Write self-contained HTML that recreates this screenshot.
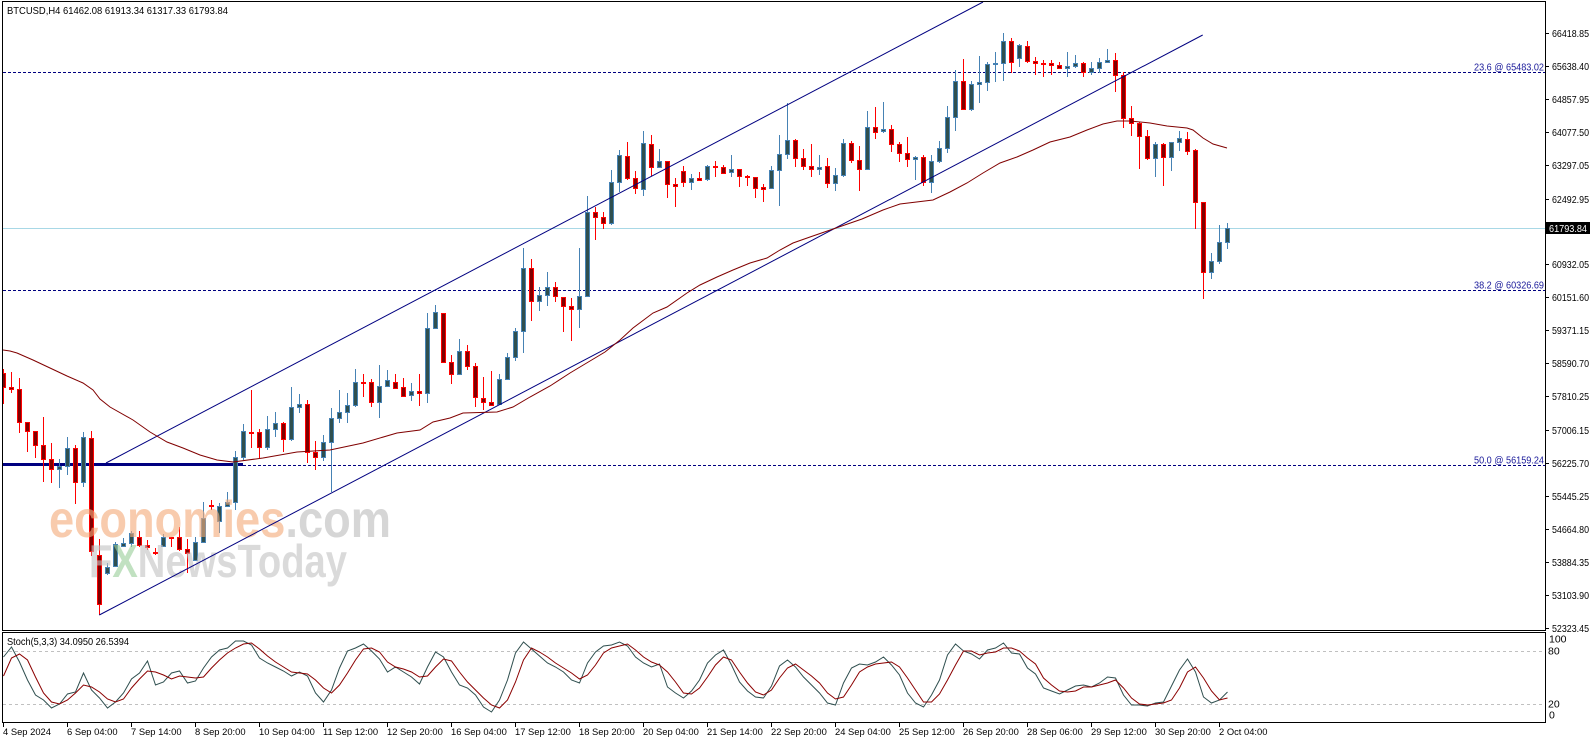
<!DOCTYPE html>
<html><head><meta charset="utf-8"><style>html,body{margin:0;padding:0;background:#fff;}svg{display:block;}</style></head>
<body>
<svg width="1596" height="743" viewBox="0 0 1596 743" xmlns="http://www.w3.org/2000/svg" font-family="'Liberation Sans', sans-serif">
<rect width="1596" height="743" fill="#fff"/>
<defs>
<clipPath id="m"><rect x="3" y="2" width="1542" height="628"/></clipPath>
<clipPath id="s"><rect x="3" y="633" width="1542" height="89"/></clipPath>
</defs>

<g clip-path="url(#m)">
<path d="M3 228.5H1545" stroke="#a8d8e6" stroke-width="1"/>
<path d="M3 72.5H1545M3 290.5H1545M3 465.5H1545" stroke="#000080" stroke-width="1" stroke-dasharray="3,2"/>
<path d="M3 464.5H243" stroke="#000080" stroke-width="3"/>

<path d="M59.5 459V488M67.5 437V475M83.5 432V487M107.5 563V575M115.5 542V567M123.5 538V547M131.5 531V547M163.5 534V547M195.5 537V561M203.5 502V543M219.5 503V533M227.5 492V507M235.5 451V510M243.5 424V460M267.5 416V450M275.5 412V437M291.5 387V441M299.5 394V413M323.5 435V461M331.5 408V492M339.5 390V423M347.5 393V423M355.5 369V407M379.5 365V418M387.5 370V387M411.5 383V401M427.5 313V403M435.5 305V328M459.5 339V375M499.5 374V404M507.5 353V380M515.5 328V361M523.5 248V353M539.5 287V311M547.5 272V306M579.5 248V328M587.5 196V297M611.5 170V225M619.5 150V192M643.5 131V196M659.5 149V168M691.5 174V190M707.5 165V181M731.5 155V177M771.5 166V189M779.5 135V206M787.5 103V159M819.5 155V175M835.5 168V191M843.5 139V177M867.5 111V170M883.5 102V133M915.5 156V180M931.5 155V193M939.5 141V163M947.5 106V153M955.5 70V131M971.5 81V111M979.5 56V103M987.5 62V91M995.5 52V82M1003.5 33V81M1019.5 44V67M1067.5 52V77M1075.5 55V68M1091.5 62V75M1099.5 58V73M1107.5 49V63M1155.5 142V177M1171.5 142V171M1179.5 131V151M1211.5 253V279M1219.5 225V264M1227.5 223V249" stroke="#4682B4" stroke-width="1" fill="none"/>

<path d="M3.5 369V404M11.5 372V393M19.5 378V433M27.5 422V452M35.5 431V458M43.5 417V482M51.5 443V483M75.5 445V504M91.5 431V556M99.5 539V615M139.5 531V547M147.5 540V550M155.5 548V555M171.5 537V547M179.5 527V551M187.5 539V573M211.5 500V510M251.5 390V448M259.5 429V458M283.5 422V452M307.5 400V463M315.5 441V470M363.5 374V397M371.5 379V407M395.5 374V389M403.5 378V397M419.5 374V406M443.5 313V363M451.5 355V384M467.5 345V370M475.5 363V407M483.5 377V410M491.5 371V405M531.5 259V321M555.5 282V302M563.5 297V332M571.5 298V341M595.5 207V240M603.5 212V229M627.5 142V180M635.5 171V194M651.5 135V176M667.5 161V198M675.5 178V207M683.5 166V187M699.5 172V181M715.5 161V177M723.5 165V173M739.5 169V187M747.5 175V186M755.5 177V198M763.5 184V202M795.5 139V167M803.5 149V170M811.5 144V177M827.5 158V188M851.5 141V163M859.5 146V191M875.5 107V139M891.5 125V152M899.5 142V162M907.5 137V167M923.5 155V186M963.5 59V110M1011.5 38V73M1027.5 41V63M1035.5 57V75M1043.5 60V77M1051.5 60V75M1059.5 62V69M1083.5 62V77M1115.5 53V92M1123.5 72V128M1131.5 106V136M1139.5 122V169M1147.5 130V160M1163.5 143V186M1187.5 132V155M1195.5 149V229M1203.5 202V299" stroke="#FF0000" stroke-width="1" fill="none"/>

<path d="M57.5 466.5h4v3h-4zM65.5 448.5h4v18h-4zM81.5 437.5h4v45h-4zM105.5 567.5h4v6h-4zM113.5 544.5h4v22h-4zM121.5 543.5h4v3h-4zM129.5 533.5h4v10h-4zM161.5 537.5h4v9h-4zM193.5 542.5h4v18h-4zM201.5 518.5h4v24h-4zM217.5 506.5h4v15h-4zM225.5 502.5h4v4h-4zM233.5 457.5h4v45h-4zM241.5 431.5h4v26h-4zM265.5 429.5h4v18h-4zM273.5 423.5h4v6h-4zM289.5 407.5h4v32h-4zM297.5 404.5h4v3h-4zM321.5 442.5h4v15h-4zM329.5 418.5h4v24h-4zM337.5 412.5h4v6h-4zM345.5 405.5h4v7h-4zM353.5 382.5h4v23h-4zM377.5 386.5h4v16h-4zM385.5 380.5h4v6h-4zM409.5 391.5h4v4h-4zM425.5 328.5h4v65h-4zM433.5 312.5h4v16h-4zM457.5 351.5h4v23h-4zM497.5 379.5h4v25h-4zM505.5 357.5h4v22h-4zM513.5 331.5h4v26h-4zM521.5 268.5h4v63h-4zM537.5 295.5h4v6h-4zM545.5 287.5h4v8h-4zM577.5 296.5h4v13h-4zM585.5 212.5h4v84h-4zM609.5 182.5h4v41h-4zM617.5 155.5h4v27h-4zM641.5 143.5h4v46h-4zM657.5 161.5h4v6h-4zM689.5 178.5h4v4h-4zM705.5 166.5h4v13h-4zM729.5 169.5h4v3h-4zM769.5 170.5h4v18h-4zM777.5 154.5h4v16h-4zM785.5 140.5h4v14h-4zM817.5 167.5h4v2h-4zM833.5 175.5h4v8h-4zM841.5 143.5h4v32h-4zM865.5 127.5h4v42h-4zM881.5 129.5h4v2h-4zM913.5 157.5h4v2h-4zM929.5 161.5h4v21h-4zM937.5 148.5h4v13h-4zM945.5 117.5h4v31h-4zM953.5 81.5h4v36h-4zM969.5 84.5h4v25h-4zM977.5 82.5h4v2h-4zM985.5 64.5h4v18h-4zM993.5 63.5h4v1h-4zM1001.5 41.5h4v22h-4zM1017.5 45.5h4v13h-4zM1065.5 66.5h4v2h-4zM1073.5 63.5h4v3h-4zM1089.5 68.5h4v4h-4zM1097.5 62.5h4v6h-4zM1105.5 60.5h4v2h-4zM1153.5 144.5h4v14h-4zM1169.5 142.5h4v15h-4zM1177.5 138.5h4v4h-4zM1209.5 261.5h4v11h-4zM1217.5 242.5h4v19h-4zM1225.5 228.5h4v14h-4z" fill="#2F4F4F" stroke="#4682B4" stroke-width="1"/>

<path d="M1.5 373.5h4v14h-4zM9.5 387.5h4v2h-4zM17.5 389.5h4v33h-4zM25.5 422.5h4v9h-4zM33.5 431.5h4v14h-4zM41.5 445.5h4v14h-4zM49.5 459.5h4v10h-4zM73.5 448.5h4v34h-4zM89.5 438.5h4v113h-4zM97.5 555.5h4v49h-4zM137.5 537.5h4v8h-4zM145.5 545.5h4v2h-4zM153.5 552.5h4v1h-4zM169.5 537.5h4v1h-4zM177.5 537.5h4v12h-4zM185.5 549.5h4v4h-4zM209.5 505.5h4v1h-4zM249.5 432.5h4v1h-4zM257.5 432.5h4v15h-4zM281.5 423.5h4v16h-4zM305.5 404.5h4v48h-4zM313.5 452.5h4v5h-4zM361.5 382.5h4v1h-4zM369.5 382.5h4v20h-4zM393.5 382.5h4v6h-4zM401.5 387.5h4v9h-4zM417.5 391.5h4v2h-4zM441.5 313.5h4v49h-4zM449.5 362.5h4v12h-4zM465.5 351.5h4v15h-4zM473.5 366.5h4v31h-4zM481.5 398.5h4v4h-4zM489.5 402.5h4v3h-4zM529.5 268.5h4v33h-4zM553.5 287.5h4v9h-4zM561.5 297.5h4v9h-4zM569.5 306.5h4v3h-4zM593.5 212.5h4v5h-4zM601.5 217.5h4v6h-4zM625.5 156.5h4v22h-4zM633.5 178.5h4v10h-4zM649.5 144.5h4v23h-4zM665.5 161.5h4v23h-4zM673.5 184.5h4v2h-4zM681.5 171.5h4v11h-4zM697.5 178.5h4v2h-4zM713.5 166.5h4v1h-4zM721.5 167.5h4v6h-4zM737.5 169.5h4v7h-4zM745.5 176.5h4v1h-4zM753.5 177.5h4v11h-4zM761.5 187.5h4v2h-4zM793.5 140.5h4v18h-4zM801.5 158.5h4v8h-4zM809.5 166.5h4v3h-4zM825.5 166.5h4v17h-4zM849.5 143.5h4v17h-4zM857.5 160.5h4v9h-4zM873.5 127.5h4v5h-4zM889.5 129.5h4v15h-4zM897.5 144.5h4v9h-4zM905.5 153.5h4v6h-4zM921.5 157.5h4v25h-4zM961.5 81.5h4v28h-4zM1009.5 41.5h4v21h-4zM1025.5 46.5h4v15h-4zM1033.5 61.5h4v2h-4zM1041.5 63.5h4v1h-4zM1049.5 63.5h4v2h-4zM1057.5 65.5h4v3h-4zM1081.5 63.5h4v9h-4zM1113.5 60.5h4v15h-4zM1121.5 75.5h4v43h-4zM1129.5 118.5h4v5h-4zM1137.5 123.5h4v13h-4zM1145.5 136.5h4v22h-4zM1161.5 144.5h4v13h-4zM1185.5 139.5h4v12h-4zM1193.5 150.5h4v52h-4zM1201.5 202.5h4v70h-4z" fill="#800000" stroke="#FF0000" stroke-width="1"/>

<g opacity="0.62">
<text x="49" y="537" font-size="52" font-weight="bold" textLength="342" lengthAdjust="spacingAndGlyphs"><tspan fill="#F5AC7B">economies</tspan><tspan fill="#BDBDBD">.com</tspan></text>
<text x="89" y="577" font-size="46" font-weight="bold" textLength="258" lengthAdjust="spacingAndGlyphs" fill="#C4C4C4">F<tspan fill="#9ccf9c">X</tspan>NewsToday</text>
</g>

<path d="M99.3 615L1202.7 35M106 463L983 2" stroke="#000080" stroke-width="1" fill="none"/>
<polyline fill="none" stroke="#800000" stroke-width="1" points="3,350 10,351 17,353 33,360 50,368 67,376 83,383 93,390 100,399 110,407 133,420 150,432 167,442 183,448 200,455 217,460 233,462 263,458 297,452 330,450 363,443 397,433 420,430 433,422 450,418 463,413 497,412 513,407 530,397 550,386 570,373 590,361 605,352 620,340 633,328 653,313 667,307 687,293 700,285 717,277 733,270 750,263 767,258 780,250 793,243 810,237 836,228 862,219 883,210 900,204 933,200 950,192 967,183 983,173 1000,163 1017,157 1033,150 1050,142 1070,137 1087,130 1103,124 1117,121 1130,121 1150,123 1167,126 1187,128 1193,130 1203,138 1213,144 1227,148"/>
</g>

<text x="7" y="14" font-size="10.5" textLength="221" lengthAdjust="spacingAndGlyphs" fill="#000">BTCUSD,H4  61462.08 61913.34 61317.33 61793.84</text>

<g font-size="10" fill="#1a1a9a">
<text x="1474" y="70.5" textLength="70" lengthAdjust="spacingAndGlyphs">23.6 @ 65483.02</text>
<text x="1474" y="288.5" textLength="70" lengthAdjust="spacingAndGlyphs">38.2 @ 60326.69</text>
<text x="1474" y="463.5" textLength="70" lengthAdjust="spacingAndGlyphs">50.0 @ 56159.24</text>
</g>

<rect x="2.5" y="1.5" width="1543" height="629" fill="none" stroke="#000" stroke-width="1"/>

<g clip-path="url(#s)">
<path d="M3 651.5H1545M3 704.5H1545" stroke="#c0c0c0" stroke-width="1" stroke-dasharray="3,3"/>
<polyline fill="none" stroke="#2F4F4F" stroke-width="1" points="3.5,657 11.5,647 19.5,662 27.5,680 35.5,695 43.5,700 51.5,708 59.5,704 67.5,694 75.5,692 83.5,673 91.5,690 99.5,698 107.5,708 115.5,702 123.5,693 131.5,679 139.5,673 147.5,661 155.5,685 163.5,682 171.5,673 179.5,671 187.5,683 195.5,681 203.5,668 211.5,657 219.5,650 227.5,648 235.5,641 243.5,641 251.5,645 259.5,658 267.5,663 275.5,667 283.5,671 291.5,676 299.5,672 307.5,676 315.5,693 323.5,702 331.5,690 339.5,668 347.5,651 355.5,648 363.5,644 371.5,651 379.5,659 387.5,672 395.5,667 403.5,672 411.5,677 419.5,684 427.5,667 435.5,652 443.5,657 451.5,672 459.5,685 467.5,688 475.5,695 483.5,707 491.5,712 499.5,700 507.5,680 515.5,653 523.5,642 531.5,649 539.5,656 547.5,663 555.5,667 563.5,672 571.5,680 579.5,683 587.5,663 595.5,652 603.5,646 611.5,645 619.5,642 627.5,646 635.5,657 643.5,663 651.5,667 659.5,664 667.5,687 675.5,693 683.5,698 691.5,691 699.5,680 707.5,663 715.5,655 723.5,650 731.5,665 739.5,682 747.5,691 755.5,697 763.5,698 771.5,686 779.5,666 787.5,660 795.5,667 803.5,677 811.5,685 819.5,693 827.5,703 835.5,705 843.5,683 851.5,668 859.5,664 867.5,665 875.5,662 883.5,657 891.5,665 899.5,675 907.5,693 915.5,703 923.5,707 931.5,695 939.5,680 947.5,655 955.5,644 963.5,651 971.5,654 979.5,659 987.5,650 995.5,648 1003.5,643 1011.5,653 1019.5,654 1027.5,668 1035.5,674 1043.5,688 1051.5,691 1059.5,694 1067.5,690 1075.5,686 1083.5,685 1091.5,687 1099.5,683 1107.5,677 1115.5,678 1123.5,695 1131.5,705 1139.5,705 1147.5,706 1155.5,703 1163.5,702 1171.5,686 1179.5,670 1187.5,659 1195.5,672 1203.5,697 1211.5,703 1219.5,700 1227.5,692"/>
<polyline fill="none" stroke="#8B0000" stroke-width="1" points="3.5,676 11.5,658 19.5,654 27.5,660 35.5,677 43.5,693 51.5,702 59.5,704 67.5,700 75.5,693 83.5,685 91.5,687 99.5,692 107.5,699 115.5,702 123.5,699 131.5,688 139.5,679 147.5,671 155.5,672 163.5,675 171.5,679 179.5,676 187.5,677 195.5,678 203.5,677 211.5,668 219.5,660 227.5,653 235.5,648 243.5,644 251.5,643 259.5,649 267.5,656 275.5,662 283.5,667 291.5,672 299.5,673 307.5,674 315.5,680 323.5,688 331.5,693 339.5,685 347.5,673 355.5,660 363.5,649 371.5,648 379.5,652 387.5,662 395.5,667 403.5,669 411.5,672 419.5,677 427.5,676 435.5,667 443.5,659 451.5,661 459.5,672 467.5,682 475.5,690 483.5,698 491.5,705 499.5,708 507.5,700 515.5,682 523.5,660 531.5,648 539.5,652 547.5,657 555.5,663 563.5,668 571.5,673 579.5,679 587.5,675 595.5,665 603.5,653 611.5,648 619.5,646 627.5,644 635.5,650 643.5,657 651.5,662 659.5,665 667.5,672 675.5,682 683.5,693 691.5,694 699.5,688 707.5,677 715.5,665 723.5,657 731.5,660 739.5,672 747.5,683 755.5,692 763.5,695 771.5,690 779.5,678 787.5,668 795.5,664 803.5,670 811.5,676 819.5,683 827.5,693 835.5,699 843.5,697 851.5,685 859.5,672 867.5,667 875.5,664 883.5,663 891.5,662 899.5,667 907.5,678 915.5,690 923.5,702 931.5,702 939.5,694 947.5,680 955.5,665 963.5,651 971.5,651 979.5,655 987.5,653 995.5,652 1003.5,648 1011.5,648 1019.5,651 1027.5,658 1035.5,664 1043.5,678 1051.5,685 1059.5,691 1067.5,692 1075.5,691 1083.5,687 1091.5,687 1099.5,685 1107.5,683 1115.5,680 1123.5,688 1131.5,698 1139.5,704 1147.5,705 1155.5,704 1163.5,703 1171.5,700 1179.5,688 1187.5,672 1195.5,667 1203.5,678 1211.5,691 1219.5,700 1227.5,698"/>
</g>

<rect x="2.5" y="632.5" width="1543" height="90" fill="none" stroke="#000" stroke-width="1"/>
<text x="7" y="645" font-size="10.5" textLength="122" lengthAdjust="spacingAndGlyphs" fill="#000">Stoch(5,3,3) 34.0950 26.5394</text>

<path d="M1545 33.5h4M1545 66.5h4M1545 99.5h4M1545 132.5h4M1545 165.5h4M1545 199.5h4M1545 264.5h4M1545 297.5h4M1545 330.5h4M1545 363.5h4M1545 396.5h4M1545 430.5h4M1545 463.5h4M1545 496.5h4M1545 529.5h4M1545 562.5h4M1545 595.5h4M1545 628.5h4" stroke="#000" stroke-width="1"/>
<g font-size="10.5" fill="#000">
<text x="1552" y="37" textLength="37" lengthAdjust="spacingAndGlyphs">66418.85</text>
<text x="1552" y="70" textLength="37" lengthAdjust="spacingAndGlyphs">65638.40</text>
<text x="1552" y="103" textLength="37" lengthAdjust="spacingAndGlyphs">64857.95</text>
<text x="1552" y="136" textLength="37" lengthAdjust="spacingAndGlyphs">64077.50</text>
<text x="1552" y="169" textLength="37" lengthAdjust="spacingAndGlyphs">63297.05</text>
<text x="1552" y="203" textLength="37" lengthAdjust="spacingAndGlyphs">62492.95</text>
<text x="1552" y="268" textLength="37" lengthAdjust="spacingAndGlyphs">60932.05</text>
<text x="1552" y="301" textLength="37" lengthAdjust="spacingAndGlyphs">60151.60</text>
<text x="1552" y="334" textLength="37" lengthAdjust="spacingAndGlyphs">59371.15</text>
<text x="1552" y="367" textLength="37" lengthAdjust="spacingAndGlyphs">58590.70</text>
<text x="1552" y="400" textLength="37" lengthAdjust="spacingAndGlyphs">57810.25</text>
<text x="1552" y="434" textLength="37" lengthAdjust="spacingAndGlyphs">57006.15</text>
<text x="1552" y="467" textLength="37" lengthAdjust="spacingAndGlyphs">56225.70</text>
<text x="1552" y="500" textLength="37" lengthAdjust="spacingAndGlyphs">55445.25</text>
<text x="1552" y="533" textLength="37" lengthAdjust="spacingAndGlyphs">54664.80</text>
<text x="1552" y="566" textLength="37" lengthAdjust="spacingAndGlyphs">53884.35</text>
<text x="1552" y="599" textLength="37" lengthAdjust="spacingAndGlyphs">53103.90</text>
<text x="1552" y="632" textLength="37" lengthAdjust="spacingAndGlyphs">52323.45</text>
</g>
<rect x="1546" y="222" width="44" height="12" fill="#000"/>
<text x="1549" y="232" font-size="10.5" textLength="38" lengthAdjust="spacingAndGlyphs" fill="#fff">61793.84</text>

<g font-size="10.5" fill="#000">
<text x="1549" y="642.7">100</text>
<text x="1548" y="654.3">80</text>
<text x="1548" y="707.3">20</text>
<text x="1549" y="718.3">0</text>
</g>

<path d="M3.5 722v5M67.5 722v5M131.5 722v5M195.5 722v5M259.5 722v5M323.5 722v5M387.5 722v5M451.5 722v5M515.5 722v5M579.5 722v5M643.5 722v5M707.5 722v5M771.5 722v5M835.5 722v5M899.5 722v5M963.5 722v5M1027.5 722v5M1091.5 722v5M1155.5 722v5M1219.5 722v5" stroke="#000" stroke-width="1"/>
<g font-size="9.4" fill="#000">
<text x="3" y="735">4 Sep 2024</text>
<text x="67" y="735">6 Sep 04:00</text>
<text x="131" y="735">7 Sep 14:00</text>
<text x="195" y="735">8 Sep 20:00</text>
<text x="259" y="735">10 Sep 04:00</text>
<text x="323" y="735">11 Sep 12:00</text>
<text x="387" y="735">12 Sep 20:00</text>
<text x="451" y="735">16 Sep 04:00</text>
<text x="515" y="735">17 Sep 12:00</text>
<text x="579" y="735">18 Sep 20:00</text>
<text x="643" y="735">20 Sep 04:00</text>
<text x="707" y="735">21 Sep 14:00</text>
<text x="771" y="735">22 Sep 20:00</text>
<text x="835" y="735">24 Sep 04:00</text>
<text x="899" y="735">25 Sep 12:00</text>
<text x="963" y="735">26 Sep 20:00</text>
<text x="1027" y="735">28 Sep 06:00</text>
<text x="1091" y="735">29 Sep 12:00</text>
<text x="1155" y="735">30 Sep 20:00</text>
<text x="1219" y="735">2 Oct 04:00</text>
</g>
</svg>
</body></html>
